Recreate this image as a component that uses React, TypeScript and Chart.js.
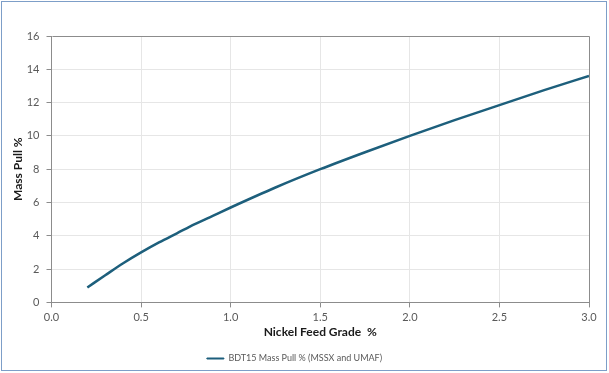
import React, { useEffect, useRef } from "react";
import { Chart, registerables } from "chart.js";

Chart.register(...registerables);

const gradeX: number[] = [0.2, 0.3, 0.4, 0.5, 0.6, 0.7, 0.8, 0.9, 1.0, 1.25, 1.5, 1.75, 2.0, 2.25, 2.5, 2.75, 3.0];
const massPull: number[] = [0.9, 1.63, 2.35, 3.0, 3.6, 4.15, 4.7, 5.2, 5.7, 6.9, 8.0, 9.02, 10.0, 10.95, 11.85, 12.75, 13.6];
const seriesLabel = "BDT15 Mass Pull % (MSSX and UMAF)";
const xTitle = "Nickel Feed Grade  %";
const yTitle = "Mass Pull %";

const FONT = "Lato, 'Open Sans', sans-serif";
const AXIS = "#8c8c8c";
const GRID = "#e6e6e6";
const TEXT = "#595959";
const LINE = "#1d5f7c";

const frame = {
  id: "plotFrame",
  afterDraw(chart: any) {
    const { ctx, chartArea } = chart;
    ctx.save();
    ctx.strokeStyle = AXIS;
    ctx.lineWidth = 1;
    ctx.beginPath();
    ctx.moveTo(Math.round(chartArea.left) + 0.5, Math.round(chartArea.top) + 0.5);
    ctx.lineTo(Math.round(chartArea.right) + 0.5, Math.round(chartArea.top) + 0.5);
    ctx.lineTo(Math.round(chartArea.right) + 0.5, Math.round(chartArea.bottom) + 0.5);
    ctx.stroke();
    ctx.restore();
  },
};

export default function App() {
  const ref = useRef<HTMLCanvasElement | null>(null);
  useEffect(() => {
    if (!ref.current) return;
    const chart = new Chart(ref.current, {
      type: "line",
      data: {
        datasets: [
          {
            label: seriesLabel,
            data: gradeX.map((x, i) => ({ x, y: massPull[i] })),
            borderColor: LINE,
            backgroundColor: LINE,
            borderWidth: 2.5,
            pointRadius: 0,
            cubicInterpolationMode: "monotone",
          },
        ],
      },
      plugins: [frame],
      options: {
        responsive: false,
        animation: false,
        layout: { padding: { left: 0, top: 36, right: 20, bottom: 0 } },
        plugins: {
          tooltip: { enabled: false },
          legend: {
            position: "bottom",
            labels: {
              boxWidth: 17,
              boxHeight: 1,
              padding: 10,
              color: TEXT,
              font: { family: FONT, size: 9 },
              generateLabels: (c: any) =>
                Chart.defaults.plugins.legend.labels.generateLabels(c).map((l: any) => ({ ...l, lineWidth: 1 })),
            },
          },
        },
        scales: {
          x: {
            type: "linear",
            min: 0,
            max: 3,
            afterFit: (s: any) => {
              s.height = s.height - 2;
            },
            ticks: {
              stepSize: 0.5,
              padding: 3,
              color: TEXT,
              font: { family: FONT, size: 11 },
              callback: (v: any) => Number(v).toFixed(1),
            },
            grid: { color: GRID, tickColor: AXIS, tickLength: 5 },
            border: { color: AXIS },
            title: {
              display: true,
              text: xTitle,
              color: "#1a1a1a",
              font: { family: FONT, size: 12, weight: "bold" },
              padding: { top: 0, bottom: 5 },
            },
          },
          y: {
            min: 0,
            max: 16,
            afterFit: (s: any) => {
              s.width = 51.5;
            },
            ticks: {
              stepSize: 2,
              padding: 7,
              color: TEXT,
              font: { family: FONT, size: 11 },
            },
            grid: { color: GRID, tickColor: AXIS, tickLength: 5 },
            border: { color: AXIS },
            title: {
              display: true,
              text: yTitle,
              color: "#1a1a1a",
              font: { family: FONT, size: 12, weight: "bold" },
              padding: { top: 11, bottom: 0 },
            },
          },
        },
      },
    });
    return () => chart.destroy();
  }, []);
  return (
    <div style={{ position: "fixed", left: 0, top: 0, width: 609, height: 373, background: "#fff" }}>
      <canvas ref={ref} width={609} height={373} style={{ position: "absolute", left: 0, top: 0 }} />
      <div
        style={{
          position: "absolute",
          left: 1,
          top: 1,
          width: 604,
          height: 368,
          border: "1px solid #7d9ec8",
          pointerEvents: "none",
        }}
      />
    </div>
  );
}
